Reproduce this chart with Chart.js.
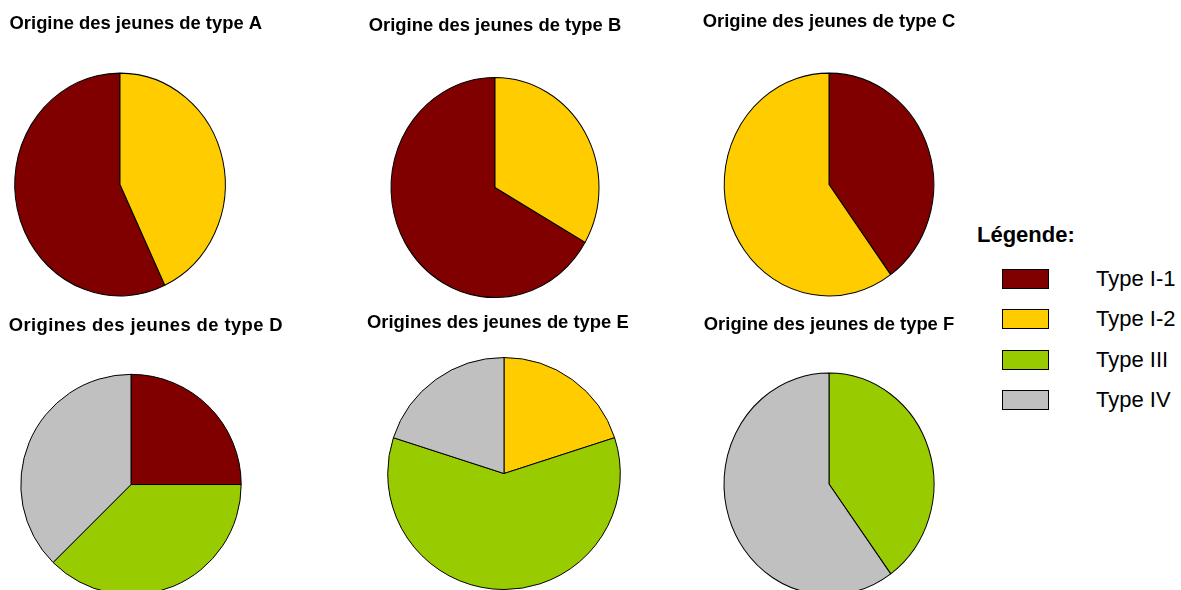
<!DOCTYPE html>
<html>
<head>
<meta charset="utf-8">
<script src="https://cdn.jsdelivr.net/npm/chart.js@4.4.1/dist/chart.umd.min.js"></script>
<style>
html, body { margin:0; padding:0; background:#fff; overflow:hidden; }
body { width:1181px; height:590px; position:relative; font-family:"Liberation Sans", Arial, sans-serif; }
canvas.pie { position:absolute; }
#legendTitle { position:absolute; left:977px; top:223px; font-weight:bold; font-size:22px; line-height:24px; color:#000; white-space:nowrap; }
.lg-box { position:absolute; left:1002px; width:47px; height:20px; box-sizing:border-box; border:1px solid #000; }
.lg-text { position:absolute; left:1096px; font-size:22px; line-height:20px; color:#000; white-space:nowrap; }
</style>
</head>
<body>
<div id="legendTitle">Légende:</div>
<div id="legend"></div>
<script>
// ---- data ----
const categories = ['Type I-1', 'Type I-2', 'Type III', 'Type IV'];
const colors = ['#800000', '#FFCC00', '#99CC00', '#C0C0C0'];
const titles = [
  'Origine des jeunes de type A',
  'Origine des jeunes de type B',
  'Origine des jeunes de type C',
  'Origines des jeunes de type D',
  'Origines des jeunes de type E',
  'Origine des jeunes de type F'
];
const valuesA = [57, 43, 0, 0];
const valuesB = [66.7, 33.3, 0, 0];
const valuesC = [40, 60, 0, 0];
const valuesD = [25, 0, 37.5, 37.5];
const valuesE = [0, 20, 60, 20];
const valuesF = [0, 0, 40, 60];
const seriesValues = [valuesA, valuesB, valuesC, valuesD, valuesE, valuesF];
// category shown first at 12 o'clock (clockwise)
const startCategory = [1, 1, 0, 0, 1, 2];

// ---- layout (positions & sizes) ----
const TITLE_SIZE = 18.4;
const layout = [
  { align:'end',    tx:261.7, ty:24,    cx:119.7, cy:184.7, rx:105.3, ry:111.4 },
  { align:'center',           ty:25.7,  cx:495.4, cy:187.7, rx:104,   ry:110   },
  { align:'center',           ty:22.5,  cx:829.3, cy:184.7, rx:104.8, ry:111.4 },
  { align:'end',    tx:283,   ty:325.7, cx:130.8, cy:484.3, rx:110.2, ry:110.2, spacing:'0.4px' },
  { align:'start',  tx:366.5, ty:323,   cx:503.6, cy:473.3, rx:116.3, ry:116   },
  { align:'center',           ty:325,   cx:829,   cy:484,   rx:105,   ry:111   }
];

const ellipsePlugin = {
  id: 'ellipse',
  beforeDraw(chart, args, opts) {
    if (opts.letterSpacing) chart.ctx.letterSpacing = opts.letterSpacing;
  },
  beforeDatasetsDraw(chart, args, opts) {
    const arc = chart.getDatasetMeta(0).data[0];
    const ctx = chart.ctx;
    ctx.save();
    ctx.translate(arc.x, arc.y);
    ctx.scale(1, opts.ratio || 1);
    ctx.translate(-arc.x, -arc.y);
  },
  afterDatasetsDraw(chart) {
    chart.ctx.restore();
  }
};

const lineH = TITLE_SIZE * 1.2;
layout.forEach((L, i) => {
  let W;
  if (L.align === 'end') W = 2 * (L.tx - L.cx);
  else if (L.align === 'start') W = 2 * (L.cx - L.tx);
  else W = 300;
  W = Math.round(W);
  const left = Math.round(L.cx - W / 2);
  const top = Math.round(L.ty - lineH / 2);
  const chartTop = top + lineH;
  const H = Math.round(2 * L.cy - chartTop - top);

  const cv = document.createElement('canvas');
  cv.className = 'pie';
  cv.width = W; cv.height = H;
  cv.style.left = left + 'px';
  cv.style.top = top + 'px';
  cv.style.width = W + 'px';
  cv.style.height = H + 'px';
  document.body.appendChild(cv);

  const vals = seriesValues[i];
  const total = vals.reduce((a, b) => a + b, 0);
  const before = vals.slice(0, startCategory[i]).reduce((a, b) => a + b, 0);
  const rotation = -360 * before / total;

  new Chart(cv, {
    type: 'pie',
    data: {
      labels: categories,
      datasets: [{
        data: vals,
        backgroundColor: colors,
        borderColor: '#000000',
        borderWidth: 1,
        clip: false
      }]
    },
    plugins: [ellipsePlugin],
    options: {
      responsive: false,
      animation: false,
      events: [],
      devicePixelRatio: 1,
      rotation: rotation,
      radius: L.rx,
      layout: { padding: 0 },
      plugins: {
        legend: { display: false },
        tooltip: { enabled: false },
        ellipse: { ratio: L.ry / L.rx, letterSpacing: L.spacing || null },
        title: {
          display: true,
          text: titles[i],
          align: L.align,
          color: '#000000',
          padding: { top: 0, bottom: 0 },
          font: { family: '"Liberation Sans", Arial, sans-serif', size: TITLE_SIZE, weight: 'bold', lineHeight: 1.2 }
        }
      }
    }
  });
});

// ---- legend ----
const legendRowTop = 269;
const legendRowStep = 40.4;
const legendEl = document.getElementById('legend');
categories.forEach((c, i) => {
  const y = Math.round(legendRowTop + i * legendRowStep);
  const box = document.createElement('div');
  box.className = 'lg-box';
  box.style.top = y + 'px';
  box.style.background = colors[i];
  legendEl.appendChild(box);
  const t = document.createElement('div');
  t.className = 'lg-text';
  t.style.top = y + 'px';
  t.textContent = c;
  legendEl.appendChild(t);
});
</script>
</body>
</html>
